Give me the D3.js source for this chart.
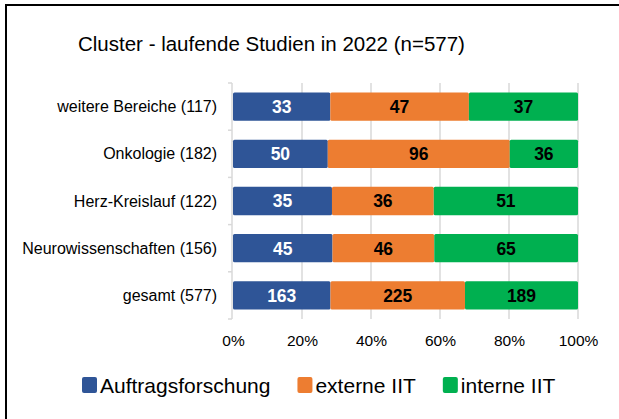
<!DOCTYPE html>
<html><head><meta charset="utf-8">
<script src="https://cdn.jsdelivr.net/npm/d3@7"></script>
<style>html,body{margin:0;padding:0;background:#fff;}svg{display:block;font-family:Arial,"Liberation Sans",sans-serif;}</style>
</head><body>
<svg id="chart" width="619" height="419"></svg>
<script>
const title = "Cluster - laufende Studien in 2022 (n=577)";
const categories = ["weitere Bereiche (117)", "Onkologie (182)", "Herz-Kreislauf (122)", "Neurowissenschaften (156)", "gesamt (577)"];
const seriesNames = ["Auftragsforschung", "externe IIT", "interne IIT"];
const auftrag = [33, 50, 35, 45, 163];
const externe = [47, 96, 36, 46, 225];
const interne = [37, 36, 51, 65, 189];
const tickValues = [0, 0.2, 0.4, 0.6, 0.8, 1.0];
const colors = ["#2F5597", "#ED7D31", "#00B050"];
const labelColors = ["#ffffff", "#000000", "#000000"];

const svg = d3.select("#chart");
// frame (left + top)
svg.append("line").attr("x1",6).attr("x2",6).attr("y1",5).attr("y2",419).attr("stroke","#000").attr("stroke-width",2);
svg.append("line").attr("x1",5).attr("x2",619).attr("y1",5).attr("y2",5).attr("stroke","#000").attr("stroke-width",2);

svg.append("text").attr("x",78).attr("y",51).attr("font-size",20.5).attr("fill","#000").text(title);

const x = d3.scaleLinear().domain([0,1]).range([233,578]);
const y = d3.scaleBand().domain(categories).range([83,319]).paddingInner(0.4).paddingOuter(0.2);

// gridlines
svg.append("g").selectAll("line").data(tickValues.slice(1)).join("line")
  .attr("x1",d=>x(d)).attr("x2",d=>x(d)).attr("y1",83).attr("y2",319)
  .attr("stroke","#d9d9d9").attr("stroke-width",1.5);

// left axis line + ticks at band boundaries
const bounds = categories.map(c=>y(c)-y.step()*y.paddingInner()/2);
bounds.push(319);
bounds[0]=83;
svg.append("line").attr("x1",232).attr("x2",232).attr("y1",83).attr("y2",319).attr("stroke","#d9d9d9").attr("stroke-width",1.5);
svg.append("g").selectAll("line").data(bounds).join("line")
  .attr("x1",228).attr("x2",232).attr("y1",d=>d).attr("y2",d=>d).attr("stroke","#d9d9d9").attr("stroke-width",1.5);

// category labels
svg.append("g").selectAll("text").data(categories).join("text")
  .attr("x",217).attr("y",d=>y(d)+y.bandwidth()/2).attr("dy","0.35em")
  .attr("text-anchor","end").attr("font-size",16).attr("fill","#000").text(d=>d);

// x tick labels
const xAxis = d3.axisBottom(x).tickValues(tickValues).tickFormat(d3.format(".0%")).tickSize(0).tickPadding(0);
const gx = svg.append("g").attr("transform","translate(0,346)").call(xAxis);
gx.select(".domain").remove();
gx.selectAll("text").attr("font-size",15.5).attr("font-family","Arial, 'Liberation Sans', sans-serif").attr("fill","#000").attr("dy",null).attr("y",0);

// stacked data
const rows = categories.map((c,i)=>{
  const vals=[auftrag[i], externe[i], interne[i]];
  const tot=d3.sum(vals);
  let acc=0;
  return vals.map((v,j)=>{const s={cat:c, j, v, x0:acc/tot, x1:(acc+v)/tot}; acc+=v; return s;});
}).flat();

svg.append("g").selectAll("rect").data(rows).join("rect")
  .attr("x",d=>x(d.x0)).attr("width",d=>x(d.x1)-x(d.x0))
  .attr("y",d=>y(d.cat)).attr("height",y.bandwidth())
  .attr("rx",1.5).attr("fill",d=>colors[d.j]);

svg.append("g").selectAll("text").data(rows).join("text")
  .attr("x",d=>(x(d.x0)+x(d.x1))/2).attr("y",d=>y(d.cat)+y.bandwidth()/2).attr("dy","0.36em")
  .attr("text-anchor","middle").attr("font-size",17.5).attr("font-weight","bold")
  .attr("fill",d=>labelColors[d.j]).text(d=>d.v);

// legend
const leg = svg.append("g");
let lx = 82;
seriesNames.forEach((n,i)=>{
  leg.append("rect").attr("x",lx).attr("y",377).attr("width",15).attr("height",16).attr("rx",2).attr("fill",colors[i]);
  const t = leg.append("text").attr("x",lx+18).attr("y",392.5).attr("font-size",21).attr("fill","#000").text(n);
  lx = lx + 18 + t.node().getComputedTextLength() + 27;
});
</script>
</body></html>
